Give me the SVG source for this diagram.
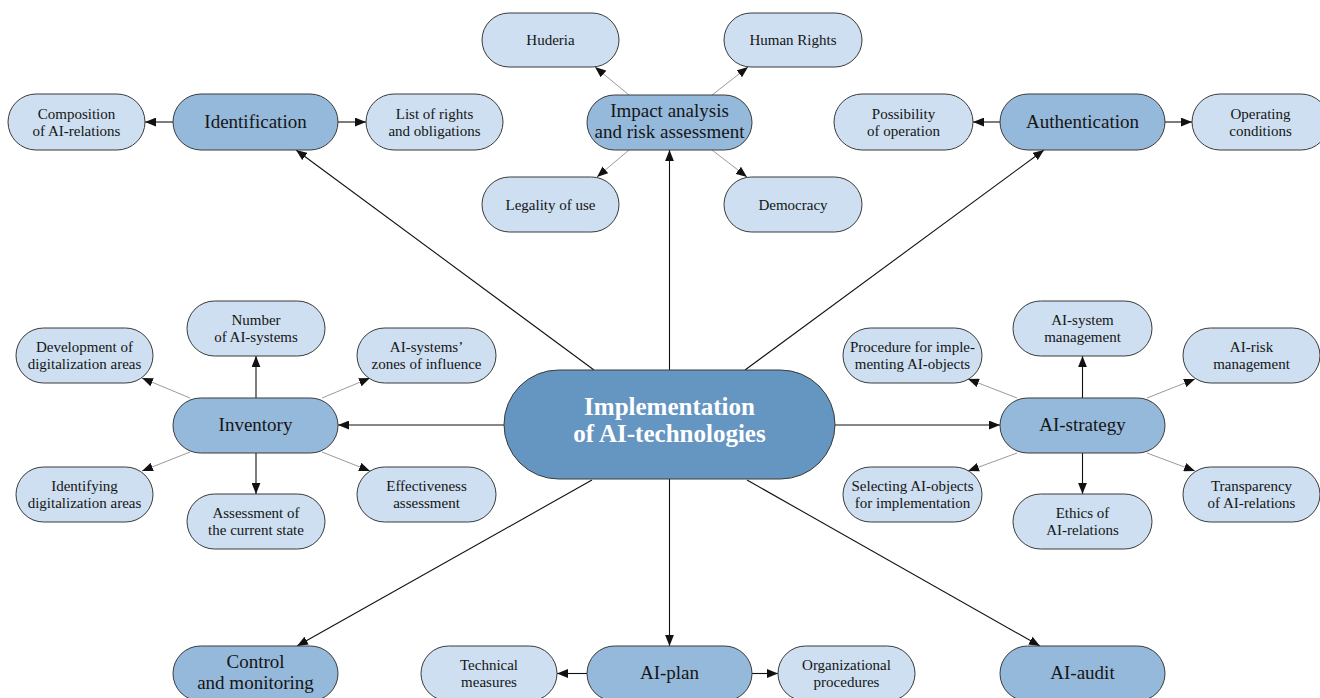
<svg xmlns="http://www.w3.org/2000/svg" width="1320" height="698" viewBox="0 0 1320 698">
  <style>
    .leaf { fill: #cddff0; stroke: #3a3a3a; stroke-width: 1; }
    .hub { fill: #95b9da; stroke: #3a3a3a; stroke-width: 1; }
    .core { fill: #6595c1; stroke: #3a3a3a; stroke-width: 1; }
    text { font-family: "Liberation Serif", "Times New Roman", serif; text-anchor: middle; fill: #151515; }
    .t15 { font-size: 15px; }
    .t19 { font-size: 19px; }
    .tc { font-size: 25px; font-weight: bold; fill: #ffffff; }
    .main { stroke: #111; stroke-width: 1.1; fill: none; marker-end: url(#arr); }
    .sub { stroke: #808080; stroke-width: 0.8; fill: none; marker-end: url(#arr); }
  </style>
  <defs>
    <marker id="arr" viewBox="0 0 10 8" refX="10" refY="4" markerWidth="11" markerHeight="9" markerUnits="userSpaceOnUse" orient="auto">
      <path d="M0,0 L10,4 L0,8 z" fill="#111"/>
    </marker>
  </defs>
  <rect width="1320" height="698" fill="#ffffff"/>

  <!-- connectors -->
  <g id="connectors">
    <!-- from the core node -->
    <line class="main" x1="594" y1="370" x2="296" y2="150"/>
    <line class="main" x1="669.5" y1="370" x2="669.5" y2="150"/>
    <line class="main" x1="745" y1="370" x2="1044" y2="150"/>
    <line class="main" x1="504" y1="425" x2="338" y2="425"/>
    <line class="main" x1="835" y1="425" x2="1000" y2="425"/>
    <line class="main" x1="592" y1="480" x2="297" y2="646"/>
    <line class="main" x1="669.5" y1="479" x2="669.5" y2="646"/>
    <line class="main" x1="747" y1="480" x2="1040" y2="646"/>
    <!-- Identification -->
    <line class="main" x1="173" y1="122" x2="145" y2="122"/>
    <line class="main" x1="338" y1="122" x2="366" y2="122"/>
    <!-- Impact analysis -->
    <line class="sub" x1="629" y1="95" x2="595" y2="67"/>
    <line class="sub" x1="712" y1="95" x2="748" y2="67"/>
    <line class="sub" x1="629" y1="150" x2="597" y2="177"/>
    <line class="sub" x1="712" y1="150" x2="747" y2="177"/>
    <!-- Authentication -->
    <line class="main" x1="1000" y1="122" x2="973" y2="122"/>
    <line class="main" x1="1165" y1="122" x2="1192" y2="122"/>
    <!-- Inventory -->
    <line class="main" x1="256" y1="398" x2="256" y2="356"/>
    <line class="main" x1="256" y1="453" x2="256" y2="494"/>
    <line class="sub" x1="190" y1="398" x2="142" y2="378"/>
    <line class="sub" x1="322" y1="398" x2="370" y2="378"/>
    <line class="sub" x1="190" y1="452" x2="142" y2="471"/>
    <line class="sub" x1="322" y1="452" x2="370" y2="471"/>
    <!-- AI-strategy -->
    <line class="main" x1="1082.5" y1="398" x2="1082.5" y2="356"/>
    <line class="main" x1="1082.5" y1="453" x2="1082.5" y2="494"/>
    <line class="sub" x1="1017" y1="398" x2="968" y2="379"/>
    <line class="sub" x1="1147" y1="398" x2="1195" y2="379"/>
    <line class="sub" x1="1017" y1="453" x2="968" y2="471"/>
    <line class="sub" x1="1147" y1="453" x2="1195" y2="471"/>
    <!-- AI-plan -->
    <line class="main" x1="587" y1="673.5" x2="557" y2="673.5"/>
    <line class="main" x1="752" y1="673.5" x2="778" y2="673.5"/>
  </g>

  <!-- core -->
  <g id="core">
    <rect class="core" x="504" y="370" width="331" height="109" rx="54.5"/>
    <text class="tc" x="669.5" y="415">Implementation</text>
    <text class="tc" x="669.5" y="442">of AI-technologies</text>
  </g>

  <!-- hubs -->
  <g id="identification">
    <rect class="hub" x="173" y="94" width="165" height="56" rx="28"/>
    <text class="t19" x="255.5" y="128">Identification</text>
  </g>
  <g id="impact">
    <rect class="hub" x="587" y="95" width="165" height="55" rx="27.5"/>
    <text class="t19" x="669.5" y="117">Impact analysis</text>
    <text class="t19" x="669.5" y="138">and risk assessment</text>
  </g>
  <g id="authentication">
    <rect class="hub" x="1000" y="94" width="165" height="56" rx="28"/>
    <text class="t19" x="1082.5" y="128">Authentication</text>
  </g>
  <g id="inventory">
    <rect class="hub" x="173" y="398" width="165" height="55" rx="27.5"/>
    <text class="t19" x="255.5" y="431">Inventory</text>
  </g>
  <g id="ai-strategy">
    <rect class="hub" x="1000" y="398" width="165" height="55" rx="27.5"/>
    <text class="t19" x="1082.5" y="431">AI-strategy</text>
  </g>
  <g id="control">
    <rect class="hub" x="173" y="646" width="165" height="55" rx="27.5"/>
    <text class="t19" x="255.5" y="668">Control</text>
    <text class="t19" x="255.5" y="689">and monitoring</text>
  </g>
  <g id="ai-plan">
    <rect class="hub" x="587" y="646" width="165" height="55" rx="27.5"/>
    <text class="t19" x="669.5" y="679">AI-plan</text>
  </g>
  <g id="ai-audit">
    <rect class="hub" x="1000" y="646" width="165" height="55" rx="27.5"/>
    <text class="t19" x="1082.5" y="679">AI-audit</text>
  </g>

  <!-- leaves -->
  <g id="composition">
    <rect class="leaf" x="8" y="94" width="137" height="56" rx="28"/>
    <text class="t15" x="76.5" y="118.5">Composition</text>
    <text class="t15" x="76.5" y="135.5">of AI-relations</text>
  </g>
  <g id="list-rights">
    <rect class="leaf" x="366" y="94" width="137" height="56" rx="28"/>
    <text class="t15" x="434.5" y="118.5">List of rights</text>
    <text class="t15" x="434.5" y="135.5">and obligations</text>
  </g>
  <g id="huderia">
    <rect class="leaf" x="482" y="13" width="137" height="54" rx="27"/>
    <text class="t15" x="550.5" y="45">Huderia</text>
  </g>
  <g id="human-rights">
    <rect class="leaf" x="724" y="13" width="138" height="54" rx="27"/>
    <text class="t15" x="793" y="45">Human Rights</text>
  </g>
  <g id="legality">
    <rect class="leaf" x="482" y="177" width="137" height="55" rx="27.5"/>
    <text class="t15" x="550.5" y="209.5">Legality of use</text>
  </g>
  <g id="democracy">
    <rect class="leaf" x="724" y="177" width="138" height="55" rx="27.5"/>
    <text class="t15" x="793" y="209.5">Democracy</text>
  </g>
  <g id="possibility">
    <rect class="leaf" x="834" y="94" width="139" height="56" rx="28"/>
    <text class="t15" x="903.5" y="118.5">Possibility</text>
    <text class="t15" x="903.5" y="135.5">of operation</text>
  </g>
  <g id="operating">
    <rect class="leaf" x="1192" y="94" width="137" height="56" rx="28"/>
    <text class="t15" x="1260.5" y="118.5">Operating</text>
    <text class="t15" x="1260.5" y="135.5">conditions</text>
  </g>
  <g id="number">
    <rect class="leaf" x="187" y="301" width="138" height="55" rx="27.5"/>
    <text class="t15" x="256" y="325">Number</text>
    <text class="t15" x="256" y="342">of AI-systems</text>
  </g>
  <g id="development">
    <rect class="leaf" x="16" y="328" width="137" height="55" rx="27.5"/>
    <text class="t15" x="84.5" y="352">Development of</text>
    <text class="t15" x="84.5" y="369">digitalization areas</text>
  </g>
  <g id="zones">
    <rect class="leaf" x="357" y="328" width="139" height="55" rx="27.5"/>
    <text class="t15" x="426.5" y="352">AI-systems’</text>
    <text class="t15" x="426.5" y="369">zones of influence</text>
  </g>
  <g id="identifying">
    <rect class="leaf" x="16" y="467" width="137" height="55" rx="27.5"/>
    <text class="t15" x="84.5" y="491">Identifying</text>
    <text class="t15" x="84.5" y="508">digitalization areas</text>
  </g>
  <g id="assessment">
    <rect class="leaf" x="187" y="494" width="138" height="55" rx="27.5"/>
    <text class="t15" x="256" y="518">Assessment of</text>
    <text class="t15" x="256" y="535">the current state</text>
  </g>
  <g id="effectiveness">
    <rect class="leaf" x="357" y="467" width="139" height="55" rx="27.5"/>
    <text class="t15" x="426.5" y="491">Effectiveness</text>
    <text class="t15" x="426.5" y="508">assessment</text>
  </g>
  <g id="system-management">
    <rect class="leaf" x="1013" y="301" width="139" height="55" rx="27.5"/>
    <text class="t15" x="1082.5" y="325">AI-system</text>
    <text class="t15" x="1082.5" y="342">management</text>
  </g>
  <g id="procedure">
    <rect class="leaf" x="843" y="328" width="139" height="55" rx="27.5"/>
    <text class="t15" x="912.5" y="352">Procedure for imple-</text>
    <text class="t15" x="912.5" y="369">menting AI-objects</text>
  </g>
  <g id="risk-management">
    <rect class="leaf" x="1183" y="328" width="137" height="55" rx="27.5"/>
    <text class="t15" x="1251.5" y="352">AI-risk</text>
    <text class="t15" x="1251.5" y="369">management</text>
  </g>
  <g id="selecting">
    <rect class="leaf" x="843" y="467" width="139" height="55" rx="27.5"/>
    <text class="t15" x="912.5" y="491">Selecting AI-objects</text>
    <text class="t15" x="912.5" y="508">for implementation</text>
  </g>
  <g id="ethics">
    <rect class="leaf" x="1013" y="494" width="139" height="55" rx="27.5"/>
    <text class="t15" x="1082.5" y="518">Ethics of</text>
    <text class="t15" x="1082.5" y="535">AI-relations</text>
  </g>
  <g id="transparency">
    <rect class="leaf" x="1183" y="467" width="137" height="55" rx="27.5"/>
    <text class="t15" x="1251.5" y="491">Transparency</text>
    <text class="t15" x="1251.5" y="508">of AI-relations</text>
  </g>
  <g id="technical">
    <rect class="leaf" x="421" y="646" width="136" height="55" rx="27.5"/>
    <text class="t15" x="489" y="670">Technical</text>
    <text class="t15" x="489" y="687">measures</text>
  </g>
  <g id="organizational">
    <rect class="leaf" x="778" y="646" width="137" height="55" rx="27.5"/>
    <text class="t15" x="846.5" y="670">Organizational</text>
    <text class="t15" x="846.5" y="687">procedures</text>
  </g>
</svg>
